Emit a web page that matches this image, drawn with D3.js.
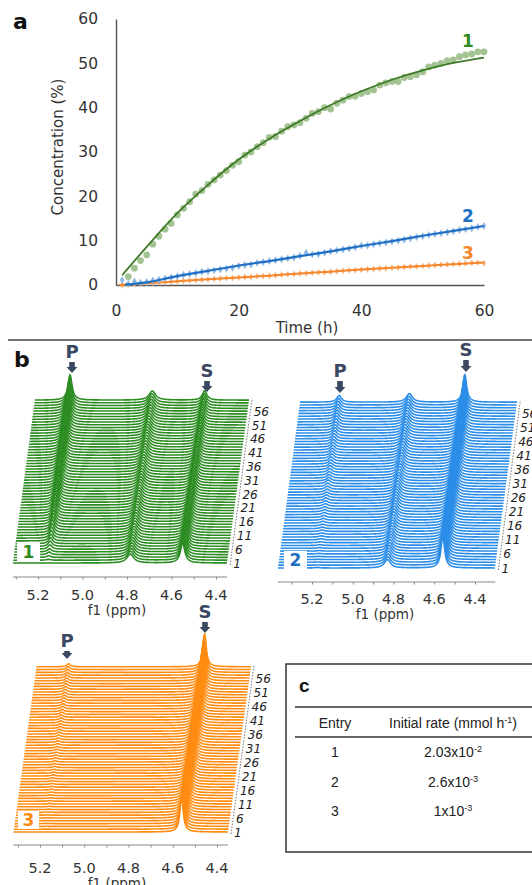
<!DOCTYPE html>
<html><head><meta charset="utf-8">
<script src="https://cdn.jsdelivr.net/npm/d3@7"></script>
<style>
html,body{margin:0;padding:0;background:#fff;}
svg{display:block;font-family:"DejaVu Sans",Verdana,sans-serif;}
</style></head>
<body><svg id="chart" width="532" height="885"></svg>
<script>
// ---------------- DATA ----------------
// Panel a: time (h) and concentration (%) for the three reactions
const time1 = d3.range(2, 61);
const conc1 = [1.9,3.8,5.5,6.8,9.2,11.0,12.6,13.9,15.8,17.3,18.8,20.5,21.3,22.7,23.7,24.8,25.8,27.0,27.8,29.3,30.0,31.2,32.1,33.3,33.5,34.7,35.7,36.1,36.6,37.6,38.7,39.1,40.0,39.7,41.0,41.7,42.5,42.6,43.2,43.6,44.0,45.1,45.6,45.9,45.9,46.8,47.0,47.4,48.1,49.2,49.6,50.0,50.6,50.8,51.5,51.9,52.1,52.6,52.6];
const time2 = d3.range(1, 61);
const conc2 = [1.1,0.3,0.8,0.5,0.7,1.0,1.2,1.5,1.7,2.0,2.3,2.5,2.7,3.0,3.1,3.3,3.5,3.7,3.9,4.3,4.5,4.6,5.0,5.2,5.4,5.6,5.8,6.0,6.2,6.6,7.3,6.9,7.0,7.3,7.6,7.8,8.0,8.2,8.5,8.9,8.9,9.2,9.4,9.6,9.8,10.0,10.2,10.5,10.8,11.0,11.3,11.5,11.7,11.9,12.1,12.4,12.6,12.8,13.1,13.3];
const time3 = d3.range(1, 61);
const conc3 = [0.0,0.1,0.2,0.3,0.4,0.5,0.6,0.7,0.75,0.85,0.95,1.0,1.1,1.2,1.3,1.35,1.45,1.55,1.6,1.7,1.8,1.85,1.95,2.05,2.1,2.2,2.3,2.4,2.5,2.6,2.65,2.75,2.85,2.9,3.0,3.1,3.2,3.3,3.35,3.45,3.55,3.6,3.7,3.8,3.9,3.95,4.05,4.15,4.2,4.3,4.4,4.5,4.55,4.65,4.75,4.8,4.9,5.0,5.05,4.9];
// fitted curves
const fitT1 = [1,5,10,15,20,25,30,35,40,45,50,55,60];
const fit1  = [2.2,8.6,16.2,22.6,28.3,33.0,37.0,40.6,43.7,46.3,48.4,50.1,51.3];
const fitT2 = [1.5,5,10,15,20,25,30,35,40,45,50,55,60];
const fit2  = [0.1,0.6,2.0,3.2,4.4,5.4,6.5,7.6,8.8,9.9,11.1,12.2,13.3];
const fitT3 = [0.5,5,10,15,20,25,30,35,40,45,50,55,60];
const fit3  = [0.0,0.4,0.85,1.3,1.7,2.1,2.6,3.0,3.5,3.9,4.3,4.7,5.1];
const yTicksA = [0,10,20,30,40,50,60];
const xTicksA = [0,20,40,60];

// Panel b: NMR signals (ppm) of product P, internal signal M, substrate S
const peakP = [5.155, 5.175, 5.175];
const peakM = [4.785, 4.83, null];
const peakS = [4.55, 4.558, 4.56];
const spectraIds = d3.range(1, 61);          // spectrum numbers
const spectraLabels = [1,6,11,16,21,26,31,36,41,46,51,56];
const ppmTicks = [5.2,5.0,4.8,4.6,4.4];

// Panel c: table
const tableEntries = ["1","2","3"];
const rateMantissa = ["2.03","2.6","1"];
const rateExponent = ["-2","-3","-3"];

// ---------------- DRAW ----------------
const svg = d3.select("#chart");

// ===== Panel a =====
const xA = d3.scaleLinear().domain([0,60]).range([116,484]);
const yA = d3.scaleLinear().domain([0,60]).range([285,19]);
const gA = svg.append("g");
const axL = gA.append("g").attr("transform","translate(116,0)")
  .call(d3.axisLeft(yA).tickValues(yTicksA).tickSize(0).tickPadding(18));
const axB = gA.append("g").attr("transform","translate(0,285)")
  .call(d3.axisBottom(xA).tickValues(xTicksA).tickSize(0).tickPadding(20));
[axL,axB].forEach(a=>{
  a.select(".domain").attr("stroke","#555").attr("stroke-width",1.4);
  a.selectAll("text").style("font-family","DejaVu Sans").attr("font-size",15.5).attr("fill","#333");
});
gA.append("text").attr("x",307).attr("y",333).attr("text-anchor","middle")
  .attr("font-size",15).attr("fill","#333").text("Time (h)");
gA.append("text").attr("transform","translate(63,147) rotate(-90)").attr("text-anchor","middle")
  .attr("font-size",15).attr("fill","#333").text("Concentration (%)");
svg.append("text").attr("x",13).attr("y",29).attr("font-size",22).attr("font-weight","bold").attr("fill","#111").text("a");

const lineA = (T,V)=>d3.line().curve(d3.curveMonotoneX).x((d,i)=>xA(T[i])).y(d=>yA(d))(V);
// series 3 (orange)
gA.selectAll(".p3").data(conc3).join("path").attr("transform",(d,i)=>`translate(${xA(time3[i])},${yA(d)})`)
  .attr("d",d3.symbol(d3.symbolDiamond,14)).attr("fill","#f7b47e");
gA.append("path").attr("d",lineA(fitT3,fit3)).attr("fill","none").attr("stroke","#f5862a").attr("stroke-width",2);
// series 2 (blue)
gA.selectAll(".p2").data(conc2).join("path").attr("transform",(d,i)=>`translate(${xA(time2[i])},${yA(d)})`)
  .attr("d",d3.symbol(d3.symbolDiamond,18)).attr("fill","#8db6e2");
gA.append("path").attr("d",lineA(fitT2,fit2)).attr("fill","none").attr("stroke","#1f70c4").attr("stroke-width",2.2);
// series 1 (green)
gA.selectAll(".p1").data(conc1).join("circle").attr("cx",(d,i)=>xA(time1[i])).attr("cy",d=>yA(d))
  .attr("r",3.4).attr("fill","#a3c393");
gA.append("path").attr("d",lineA(fitT1,fit1)).attr("fill","none").attr("stroke","#3d7a25").attr("stroke-width",1.8);
const lab = [["1","#2f8a22",41],["2","#1f70c4",216],["3","#f5862a",253]];
lab.forEach(l=>gA.append("text").attr("x",468).attr("y",l[2]+6).attr("text-anchor","middle")
  .attr("font-size",17).attr("font-weight","bold").attr("fill",l[1]).text(l[0]));

// separator
svg.append("line").attr("x1",8).attr("x2",532).attr("y1",340).attr("y2",340).attr("stroke","#444").attr("stroke-width",1.6);

// ===== Panel b =====
svg.append("text").attr("x",14).attr("y",367).attr("font-size",22).attr("font-weight","bold").attr("fill","#111").text("b");

function concAt(T,V,t){ const k=T.indexOf(t); return k<0?0:V[k]; }

const panels = [
  {k:0, color:"#2c8c22", labColor:"#2e8b24", x52:38, x44:216, ppmL:5.313, ppmR:4.35, base:563, dx:22, dy:2.76,
   axisY:577, tickY:600, f1:[117,615], box:[17,542,23,19], T:time1, V:conc1, kP:0.48, hM:9, wP:0.011, wM:0.018, wS:0.012, hS:20,
   arrP:[72,358,373], arrS:[207,377,392]},
  {k:1, color:"#2b8de8", labColor:"#1f6fc0", x52:312, x44:475, ppmL:5.367, ppmR:4.30, base:568, dx:22, dy:2.81,
   axisY:582, tickY:604, f1:[385,619], box:[284,551,23,18], T:time2, V:conc2, kP:0.5, hM:8.5, wP:0.014, wM:0.018, wS:0.011, hS:32,
   arrP:[340,377,393], arrS:[466,356,372]},
  {k:2, color:"#ff8c12", labColor:"#ff8a10", x52:40, x44:217, ppmL:5.32, ppmR:4.35, base:832, dx:23, dy:2.8,
   axisY:845, tickY:873, f1:[117,888], box:[18,811,21,18], T:time3, V:conc3, kP:0.6, hM:0, wP:0.01, wM:0.018, wS:0.009, hS:35,
   arrP:[67,647,659], arrS:[205,618,633]}
];

const lor = (x,x0,w)=> 1/(1+((x-x0)/w)*((x-x0)/w));

panels.forEach(p=>{
  const g = svg.append("g");
  const xs = d3.scaleLinear().domain([5.2,4.4]).range([p.x52,p.x44]);
  const grid = d3.range(p.ppmL, p.ppmR-0.0001, -0.0025);
  const n = spectraIds.length;
  const line = d3.line();
  for (let i=n-1;i>=0;i--){
    const id = spectraIds[i];
    const c = concAt(p.T,p.V,id);
    const hP = p.kP*c, hS = p.hS*(1-c/100), hM = p.hM;
    const ox = p.dx*i/(n-1), by = p.base - p.dy*i;
    const pts = grid.map(v=>{
      let h = hP*lor(v,peakP[p.k],p.wP) + hS*lor(v,peakS[p.k],p.wS);
      if (peakM[p.k]!==null) h += hM*lor(v,peakM[p.k],p.wM);
      return [xs(v)+ox, by-h];
    });
    const d = line(pts);
    g.append("path").attr("d", d + `L${pts[pts.length-1][0]},${by+0.6}L${pts[0][0]},${by+0.6}Z`)
      .attr("fill","#fff").attr("stroke","none");
    g.append("path").attr("d",d).attr("fill","none").attr("stroke",p.color).attr("stroke-width",1.6);
  }
  // right-hand spectrum index axis
  const xr0 = xs(p.ppmR)+3, xr1 = xr0 + p.dx;
  g.append("line").attr("x1",xr0).attr("y1",p.base+2).attr("x2",xr1).attr("y2",p.base-p.dy*(n-1)-2)
    .attr("stroke","#777").attr("stroke-width",1).attr("stroke-dasharray","1.5,1.5");
  spectraLabels.forEach(s=>{
    const i = spectraIds.indexOf(s);
    g.append("text").attr("x",xr0 + p.dx*i/(n-1) + 3).attr("y",p.base - p.dy*i + 4.5)
      .attr("font-size",12).attr("font-style","italic").attr("fill","#222").text(s);
  });
  // ppm axis
  const ax = g.append("g").attr("transform",`translate(0,${p.axisY})`)
    .call(d3.axisBottom(xs).tickValues(d3.range(5.3,4.34,-0.1)).tickSize(2.5).tickFormat(""));
  ax.select(".domain").attr("stroke","#888").attr("d",`M${xs(p.ppmL)},0H${xs(p.ppmR)}`);
  ax.selectAll("line").attr("stroke","#888");
  ppmTicks.forEach(t=>g.append("text").attr("x",xs(t)).attr("y",p.tickY).attr("text-anchor","middle")
    .attr("font-size",14.5).attr("fill","#333").text(t.toFixed(1)));
  g.append("text").attr("x",p.f1[0]).attr("y",p.f1[1]).attr("text-anchor","middle")
    .attr("font-size",13.5).attr("fill","#333").text("f1 (ppm)");
  // series box
  g.append("rect").attr("x",p.box[0]).attr("y",p.box[1]).attr("width",p.box[2]).attr("height",p.box[3]).attr("fill","#fff");
  g.append("text").attr("x",p.box[0]+p.box[2]/2).attr("y",p.box[1]+p.box[3]/2+6).attr("text-anchor","middle")
    .attr("font-size",17).attr("font-weight","bold").attr("fill",p.labColor).text(p.k+1);
  // P / S markers
  [["P",p.arrP],["S",p.arrS]].forEach(([t,a])=>{
    const [cx,by,tip] = a;
    g.append("text").attr("x",cx).attr("y",by).attr("text-anchor","middle")
      .attr("font-size",18).attr("font-weight","bold").attr("fill","#3b4862").text(t);
    const top = by+4;
    g.append("path").attr("d",`M${cx-2.8},${top}H${cx+2.8}V${tip-6}H${cx+5.5}L${cx},${tip}L${cx-5.5},${tip-6}H${cx-2.8}Z`)
      .attr("fill","#3b4862");
  });
});

// ===== Panel c =====
const tf = "'Liberation Sans',Arial,sans-serif";
const gC = svg.append("g").style("font-family",tf);
gC.append("rect").attr("x",286).attr("y",664).attr("width",260).attr("height",188)
  .attr("fill","#fff").attr("stroke","#333").attr("stroke-width",1.5);
gC.append("text").attr("x",299).attr("y",692).style("font-family",tf)
  .attr("font-size",19).attr("font-weight","bold").attr("fill","#111").text("c");
[707,737].forEach(y=>gC.append("line").attr("x1",295).attr("x2",532).attr("y1",y).attr("y2",y).attr("stroke","#333").attr("stroke-width",1.4));
gC.append("text").attr("x",335).attr("y",728).attr("text-anchor","middle").style("font-family",tf).attr("font-size",14).attr("fill","#222").text("Entry");
const hdr = gC.append("text").attr("x",453).attr("y",728).attr("text-anchor","middle").style("font-family",tf).attr("font-size",14).attr("fill","#222");
hdr.append("tspan").text("Initial rate (mmol h");
hdr.append("tspan").attr("dy",-5).attr("font-size",9).text("-1");
hdr.append("tspan").attr("dy",5).text(")");
const rowY = [757,787,816];
tableEntries.forEach((e,i)=>{
  gC.append("text").attr("x",335).attr("y",rowY[i]).attr("text-anchor","middle").style("font-family",tf).attr("font-size",14).attr("fill","#222").text(e);
  const t = gC.append("text").attr("x",453).attr("y",rowY[i]).attr("text-anchor","middle").style("font-family",tf).attr("font-size",14).attr("fill","#222");
  t.append("tspan").text(rateMantissa[i]+"x10");
  t.append("tspan").attr("dy",-5).attr("font-size",9).text(rateExponent[i]);
});
</script></body></html>
